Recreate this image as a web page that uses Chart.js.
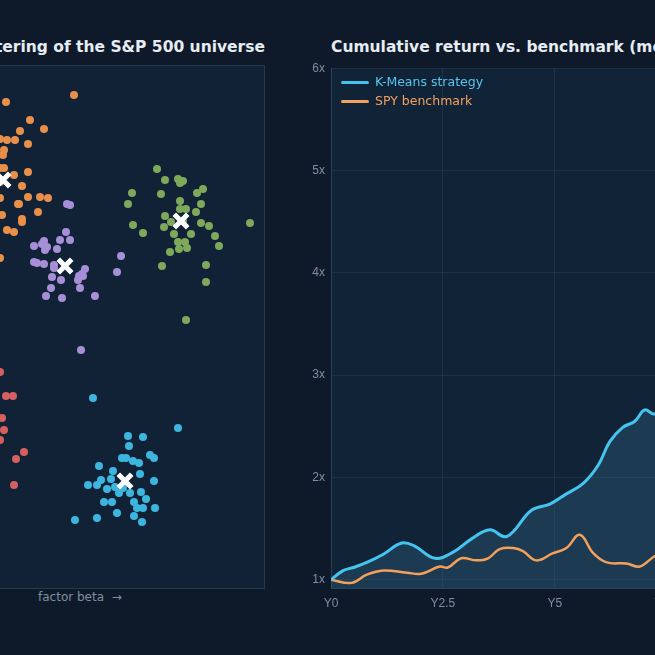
<!DOCTYPE html>
<html><head><meta charset="utf-8">
<script src="https://cdn.jsdelivr.net/npm/chart.js@4"></script>
<style>
  html,body{margin:0;width:655px;height:655px;overflow:hidden;background:#0e1a29;font-family:'DejaVu Sans',sans-serif}
  .box{position:absolute}
  .ttl{position:absolute;top:38px;color:#e6ecf2;font-weight:bold;font-size:15.5px;white-space:nowrap}
  #lp{left:-100px;top:65px;width:365px;height:524px;background:#112237;border:1px solid #22384f;box-sizing:border-box}
  #rp{left:300px;top:55px;width:389px;height:563px}
  .lg{position:absolute;font-size:12.5px;white-space:nowrap}
  .lg i{display:inline-block;width:28px;height:3px;vertical-align:middle;margin-right:6px;border-radius:2px}
</style></head><body>
<div class="ttl" style="right:390px">K-Means clustering of the S&amp;P 500 universe</div>
<div class="ttl" style="left:331px">Cumulative return vs. benchmark (monthly)</div>
<div class="box" id="lp"><canvas id="sc"></canvas></div>
<div class="box" id="rp"><canvas id="ln"></canvas></div>
<div class="ttl" style="top:590px;left:38px;font-weight:normal;font-size:12px;color:#7f8fa3">factor beta &nbsp;→</div>
<div class="lg" style="left:341px;top:74px;color:#56c6ee"><i style="background:#42c3ef"></i>K-Means strategy</div>
<div class="lg" style="left:341px;top:93px;color:#f3a15e"><i style="background:#f3a15e"></i>SPY benchmark</div>
<script>
// scatter clusters (factor beta, factor loading)
const orange = [[6,102],[74,95],[30,120],[20,131],[44,129],[0,139],[7,140],[15,140],[4,150],[3,155],[28,144],[0,168],[4,168],[14,175],[22,186],[28,172],[0,182],[40,197],[48,198],[19,204],[28,197],[38,212],[2,215],[18,204],[22,219],[22,222],[14,232],[7,230],[0,258],[0,198]];
const purple = [[67,204],[70,205],[66,232],[70,240],[60,240],[47,247],[34,246],[44,241],[42,244],[57,249],[45,250],[34,262],[37,263],[44,264],[54,265],[54,268],[85,269],[79,276],[82,274],[78,280],[83,276],[52,277],[61,280],[51,288],[80,288],[62,298],[95,296],[46,296],[121,256],[117,272],[81,350]];
const green = [[157,169],[165,180],[178,179],[180,183],[183,181],[203,189],[197,193],[132,193],[128,204],[161,194],[180,201],[201,204],[180,209],[186,209],[196,212],[165,216],[171,222],[133,225],[143,233],[164,227],[183,221],[201,223],[209,226],[215,236],[185,242],[219,246],[250,223],[178,242],[187,248],[179,249],[170,252],[162,266],[206,265],[206,282],[186,320],[174,234],[191,234]];
const red = [[0,372],[6,396],[13,396],[2,418],[4,430],[24,452],[16,459],[14,485],[0,440]];
const cyan = [[93,398],[178,428],[128,436],[143,437],[129,446],[122,458],[126,458],[150,455],[154,458],[139,463],[133,461],[99,466],[113,471],[140,474],[154,481],[88,485],[97,485],[101,480],[111,479],[123,488],[115,487],[107,489],[119,493],[130,493],[141,492],[146,499],[104,502],[112,502],[134,502],[137,508],[143,508],[155,508],[117,513],[134,516],[142,522],[75,520],[97,518]];
const centroids = [[3,180],[65,266],[181,221],[125,481]];

// cumulative growth of 1, by year
const stratX = [0,0.27,0.5,0.8,1.17,1.58,1.87,2.32,2.73,3.14,3.55,3.88,4.07,4.48,4.89,5.26,5.63,5.97,6.23,6.52,6.79,7.01,7.23,7.6,8];
const strat  = [1.0,1.09,1.12,1.17,1.25,1.36,1.33,1.21,1.27,1.40,1.49,1.42,1.47,1.68,1.74,1.84,1.94,2.12,2.35,2.49,2.55,2.66,2.62,2.7,2.8];
const benchX = [0,0.46,0.8,1.17,1.69,2.02,2.43,2.61,2.91,3.25,3.51,3.77,4.07,4.29,4.59,4.96,5.26,5.56,5.86,6.16,6.6,6.9,7.23,7.6,8];
const bench  = [1.0,0.97,1.05,1.09,1.07,1.06,1.13,1.12,1.21,1.19,1.21,1.30,1.31,1.28,1.19,1.26,1.31,1.44,1.26,1.17,1.16,1.13,1.23,1.3,1.35];
const yTicks = [1,2,3,4,5,6];

const pts = a => a.map(([x,y]) => ({x, y}));
const dot = (data, c) => ({ data: pts(data), backgroundColor: c, borderWidth: 0, pointRadius: 4 });

new Chart(document.getElementById('sc'), {
  type: 'scatter',
  data: { datasets: [
    dot(orange,'#e8904a'), dot(purple,'#a78fd8'), dot(green,'#7ea85a'), dot(red,'#d65f60'), dot(cyan,'#3cb6de'),
    { data: pts(centroids), order: -1, pointStyle: 'crossRot', pointRadius: 9.5, borderColor: '#ffffff', borderWidth: 5 }
  ]},
  options: {
    responsive: true, maintainAspectRatio: false, animation: false,
    layout: { padding: 0, autoPadding: false },
    plugins: { legend: { display: false }, tooltip: { enabled: false } },
    scales: {
      x: { display: false, min: -99, max: 264 },
      y: { display: false, min: 66, max: 588, reverse: true }
    }
  }
});

const bgPlugin = {
  id: 'bg',
  beforeDraw(c) {
    const a = c.chartArea, g = c.ctx;
    g.save(); g.fillStyle = '#112337'; g.fillRect(a.left, a.top, a.right - a.left, a.bottom - a.top); g.restore();
  }
};

new Chart(document.getElementById('ln'), {
  type: 'line',
  data: { datasets: [
    { data: stratX.map((x,i) => ({x, y: strat[i]})), borderColor: '#45c4f0', borderWidth: 3, pointRadius: 0, tension: 0.4,
      fill: { target: 'origin' }, backgroundColor: 'rgba(55,115,145,0.30)' },
    { data: benchX.map((x,i) => ({x, y: bench[i]})), borderColor: '#f5a05a', borderWidth: 2.5, pointRadius: 0, tension: 0.4 }
  ]},
  plugins: [bgPlugin],
  options: {
    responsive: true, maintainAspectRatio: false, animation: false,
    layout: { padding: { top: 10, right: 0, left: 0, bottom: 0 } },
    plugins: { legend: { display: false }, tooltip: { enabled: false }, filler: { drawTime: 'beforeDatasetsDraw' } },
    scales: {
      x: { type: 'linear', min: 0, max: 8,
        afterFit: s => { s.height = 30; },
        afterBuildTicks: s => { s.ticks = [0,2.5,5,7.5].map(v => ({value: v})); },
        grid: { color: 'rgba(120,150,170,0.12)', drawTicks: false },
        border: { color: '#2a4258' },
        ticks: { color: '#7f8fa3', font: { size: 12 }, padding: 8, callback: v => 'Y' + v } },
      y: { min: 0.92, max: 6,
        afterFit: s => { s.width = 31; },
        afterBuildTicks: s => { s.ticks = yTicks.map(v => ({value: v})); },
        grid: { color: 'rgba(120,150,170,0.12)', drawTicks: false },
        border: { color: '#2a4258' },
        ticks: { color: '#7f8fa3', font: { size: 12 }, padding: 6, callback: v => v + 'x' } }
    }
  }
});
</script>
</body></html>
